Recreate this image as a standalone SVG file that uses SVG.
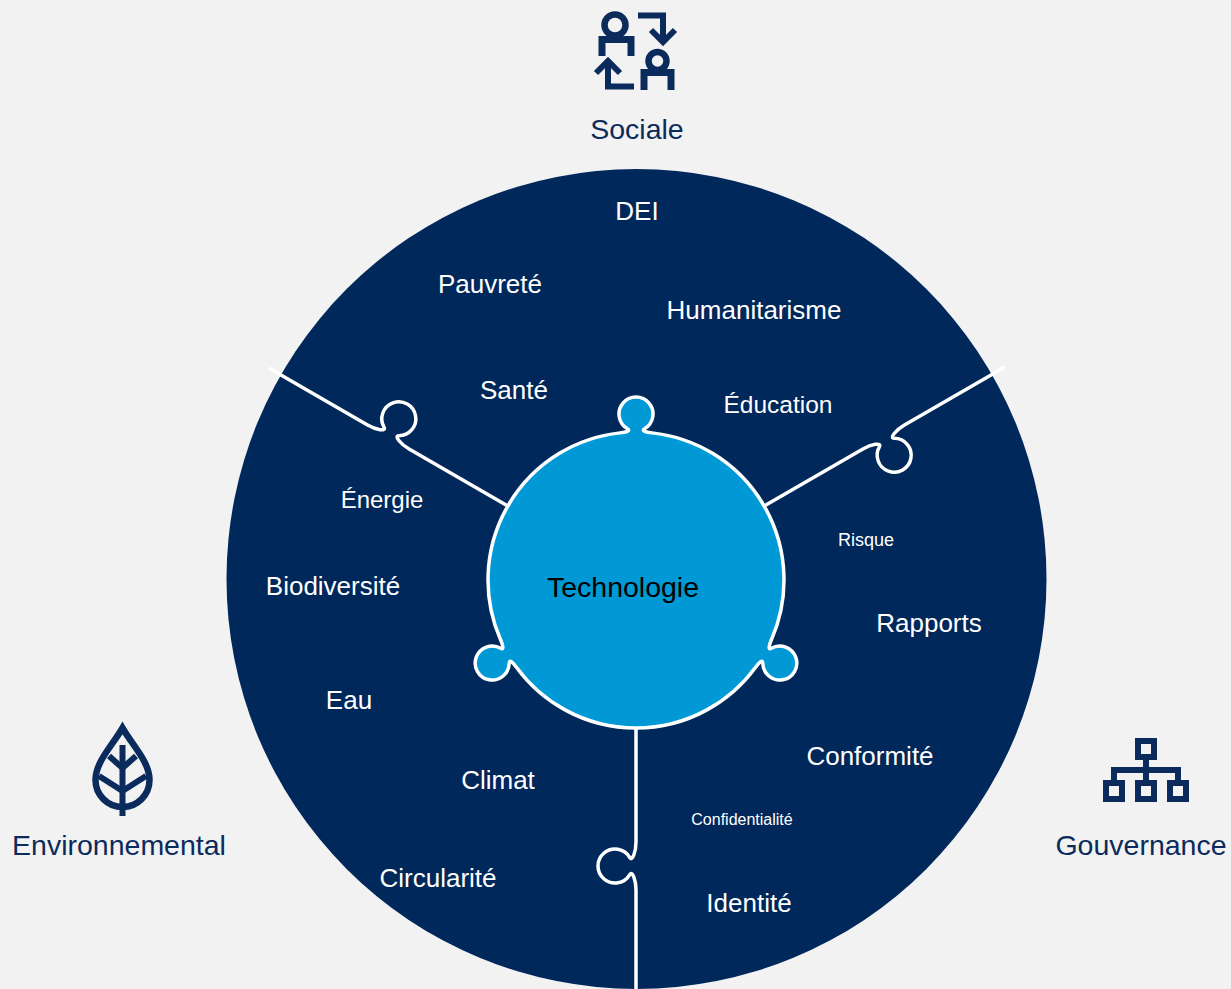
<svg xmlns="http://www.w3.org/2000/svg" width="1231" height="989" viewBox="0 0 1231 989">
<style>
.bg{fill:#f2f2f2}
.disc{fill:#00285a}
.hub{fill:#0099d6;stroke:#ffffff;stroke-width:3.5;stroke-linejoin:round}
.div{fill:none;stroke:#ffffff;stroke-width:3.5;stroke-linejoin:round;stroke-linecap:butt}
.ic{fill:none;stroke:#0b2b5c;stroke-width:6;stroke-linejoin:miter;stroke-linecap:butt}
.ic5{fill:none;stroke:#0b2b5c;stroke-width:6;stroke-linejoin:miter}
.lbl{font-family:"Liberation Sans",Arial,sans-serif;fill:#ffffff;text-anchor:middle}
.cat{font-family:"Liberation Sans",Arial,sans-serif;fill:#0b2b5c;font-size:28.5px;text-anchor:middle}
.hubt{font-family:"Liberation Sans",Arial,sans-serif;fill:#000000;font-size:28.5px;text-anchor:middle}
</style>
<rect class="bg" x="0" y="0" width="1231" height="989"/>

<g id="disc">
<circle class="disc" cx="636.5" cy="579" r="410"/>
</g>

<g id="connectors">
<path id="div-env-soc" class="div" transform="translate(636 580) rotate(210)" d="M148 0 L262 0 C272 0 281.8 3.78 277.5 6.28 A17 17 0 1 0 294.5 6.28 C290.2 3.78 300 0 310 0 L424 0"/>
<path id="div-soc-gov" class="div" transform="translate(636 580) rotate(-30)" d="M148 0 L262 0 C272 0 281.8 3.78 277.5 6.28 A17 17 0 1 0 294.5 6.28 C290.2 3.78 300 0 310 0 L426 0"/>
<path id="div-gov-env" class="div" transform="translate(636 580) rotate(90)" d="M148 0 L262 0 C272 0 281.8 3.78 277.5 6.28 A17 17 0 1 0 294.5 6.28 C290.2 3.78 300 0 310 0 L430 0"/>
</g>

<g id="technologie">
<path class="hub" d="M652 432.87 C646 432.2 641 430.7 644.5 428.7 A17 17 0 1 0 627.5 428.7 C631 430.7 626 432.2 620 432.87 A148 148 0 0 0 500.59 639.71 C503 645.24 504.21 650.32 500.72 648.29 A17 17 0 1 0 509.22 663.01 C509.21 658.98 513.01 662.56 516.59 667.42 A148 148 0 0 0 755.41 667.42 C758.99 662.56 762.79 658.98 762.78 663.01 A17 17 0 1 0 771.28 648.29 C767.79 650.32 768.99 645.24 771.41 639.71 A148 148 0 0 0 652 432.87 Z"/>
<text class="hubt" x="623" y="597">Technologie</text>
</g>

<g id="sociale">
<g id="icon-sociale">
<circle class="ic" cx="615" cy="25" r="10.5" style="stroke-width:6.5"/>
<path class="ic" d="M602 56 V39.5 H631 V56" style="stroke-width:7"/>
<path class="ic" d="M638 15.5 H663 V40"/>
<path class="ic" d="M651 30 L663 42 L675 30"/>
<path class="ic" d="M596 73 L608 61 L620 73"/>
<path class="ic" d="M608 63 V86.5 H634"/>
<circle class="ic" cx="657.5" cy="61" r="9" style="stroke-width:6.5"/>
<path class="ic" d="M644 90 V72.5 H671 V90" style="stroke-width:7"/>
</g>
<text class="cat" x="637" y="139">Sociale</text>
<text class="lbl" font-size="26" x="637" y="220">DEI</text>
<text class="lbl" font-size="26" x="490" y="293">Pauvreté</text>
<text class="lbl" font-size="26" x="754" y="319">Humanitarisme</text>
<text class="lbl" font-size="26" x="514" y="399">Santé</text>
<text class="lbl" font-size="24.5" x="778" y="413">Éducation</text>
</g>

<g id="environnemental">
<g id="icon-environnemental">
<path class="ic" d="M122.5 728 C112 746 95.5 762 95.5 780 A27 27 0 0 0 149.5 780 C149.5 762 133 746 122.5 728 Z" style="stroke-width:6.5"/>
<path class="ic" d="M122.5 745 V816"/>
<path class="ic" d="M109 756 L122.5 768 L136 756"/>
<path class="ic" d="M99 776 L122.5 791 L146 776"/>
</g>
<text class="cat" x="119" y="855">Environnemental</text>
<text class="lbl" font-size="24" x="382" y="508">Énergie</text>
<text class="lbl" font-size="26" x="333" y="595">Biodiversité</text>
<text class="lbl" font-size="26" x="349" y="709">Eau</text>
<text class="lbl" font-size="26" x="498" y="789">Climat</text>
<text class="lbl" font-size="26" x="438" y="887">Circularité</text>
</g>

<g id="gouvernance">
<g id="icon-gouvernance">
<rect class="ic5" x="1138" y="741" width="16" height="16"/>
<path class="ic5" d="M1146 760 V780 M1114 780 V770 H1178 V780"/>
<rect class="ic5" x="1106" y="783" width="16" height="16"/>
<rect class="ic5" x="1138" y="783" width="16" height="16"/>
<rect class="ic5" x="1170" y="783" width="16" height="16"/>
</g>
<text class="cat" x="1141" y="855">Gouvernance</text>
<text class="lbl" font-size="18" x="866" y="546">Risque</text>
<text class="lbl" font-size="26" x="929" y="632">Rapports</text>
<text class="lbl" font-size="26" x="870" y="765">Conformité</text>
<text class="lbl" font-size="16" x="742" y="825">Confidentialité</text>
<text class="lbl" font-size="26" x="749" y="912">Identité</text>
</g>
</svg>
